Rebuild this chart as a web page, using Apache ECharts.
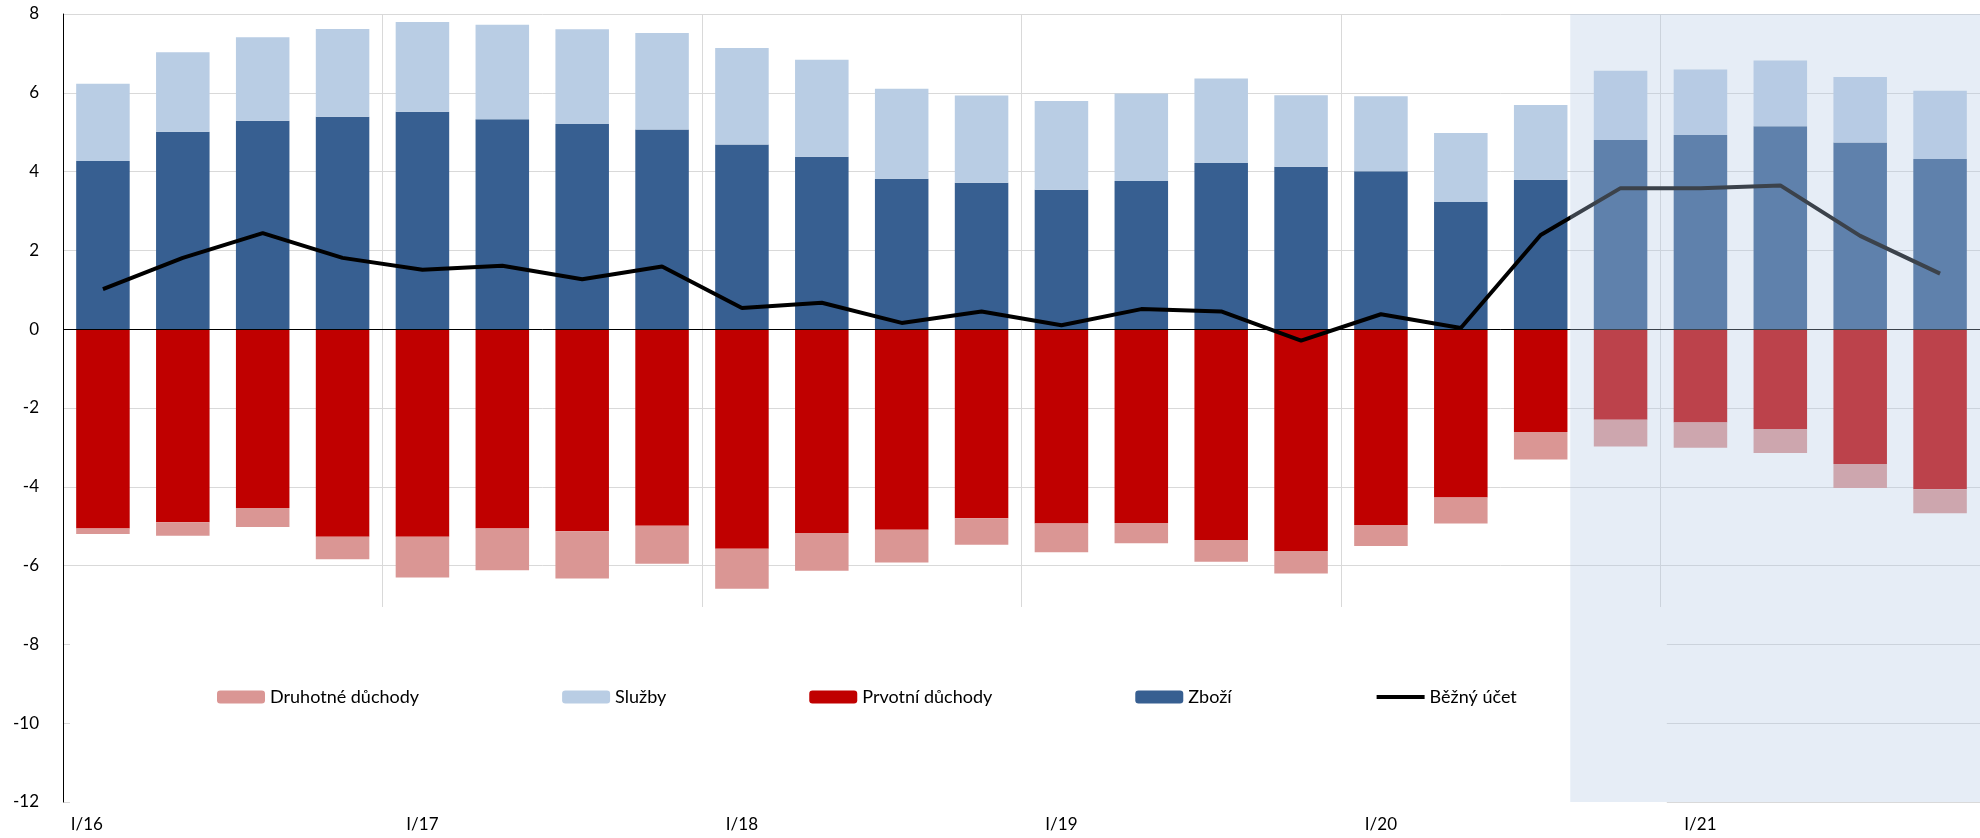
<!DOCTYPE html>
<html>
<head>
<meta charset="utf-8">
<script src="https://cdn.jsdelivr.net/npm/echarts@6/dist/echarts.min.js"></script>
<style>html,body{margin:0;padding:0;background:#fff}#c{width:1980px;height:838px}</style>
</head>
<body>
<div id="c"></div>
<script>
const categories = ['I/16','II/16','III/16','IV/16','I/17','II/17','III/17','IV/17','I/18','II/18','III/18','IV/18','I/19','II/19','III/19','IV/19','I/20','II/20','III/20','IV/20','I/21','II/21','III/21','IV/21'];
const zbozi = [4.27,5.01,5.29,5.39,5.52,5.33,5.21,5.07,4.69,4.38,3.82,3.72,3.54,3.76,4.22,4.12,4.01,3.23,3.79,4.80,4.93,5.15,4.74,4.32];
const sluzby = [1.96,2.02,2.12,2.23,2.28,2.40,2.40,2.45,2.45,2.46,2.28,2.21,2.25,2.22,2.14,1.82,1.90,1.75,1.90,1.76,1.66,1.67,1.66,1.73];
const prvotni = [-5.06,-4.90,-4.54,-5.27,-5.27,-5.06,-5.13,-4.99,-5.57,-5.17,-5.09,-4.80,-4.93,-4.92,-5.35,-5.63,-4.97,-4.27,-2.61,-2.30,-2.37,-2.53,-3.42,-4.06];
const druhotne = [-0.14,-0.34,-0.48,-0.57,-1.03,-1.06,-1.20,-0.96,-1.02,-0.96,-0.83,-0.67,-0.73,-0.51,-0.55,-0.57,-0.53,-0.66,-0.70,-0.68,-0.64,-0.61,-0.61,-0.61];
const bezny = [1.02,1.81,2.44,1.81,1.51,1.61,1.27,1.59,0.54,0.67,0.16,0.45,0.10,0.51,0.45,-0.29,0.38,0.03,2.39,3.58,3.58,3.65,2.37,1.41];
const yTicks = {min:-12, max:8, interval:2};
const forecastRange = [18.87, 24]; // shaded forecast span, in category units

const FONT = 'Lato';
const xData = categories.map((c, i) => i === 0 ? {value:c, textStyle:{align:'right'}} : c);

const chart = echarts.init(document.getElementById('c'));
chart.setOption({
  animation:false,
  backgroundColor:'#fff',
  textStyle:{fontFamily:FONT},
  grid:{left:63, top:14, width:1920, bottom:36, containLabel:false},
  legend:{
    data:['Druhotné důchody','Služby','Prvotní důchody','Zboží',
          {name:'Běžný účet', itemStyle:{opacity:0, color:'rgba(0,0,0,0)'}, lineStyle:{width:4, color:'#000'}}],
    left:70, top:607,
    padding:[81,150,98,147],
    backgroundColor:'#fff',
    z:1,
    itemWidth:48, itemHeight:13, itemGap:143,
    textStyle:{fontSize:18, color:'#000', fontFamily:FONT},
    selectedMode:false
  },
  xAxis:[{
    type:'category', data:xData, boundaryGap:true,
    axisLine:{show:false, onZero:false}, axisTick:{show:false},
    axisLabel:{interval:3, fontSize:17, color:'#000', margin:14, fontFamily:FONT},
    splitLine:{show:true, interval:3, lineStyle:{color:'#d9d9d9', width:1}}
  },{
    type:'value', min:0, max:24, show:false
  }],
  yAxis:{
    type:'value', min:yTicks.min, max:yTicks.max, interval:yTicks.interval,
    axisLine:{show:true, lineStyle:{color:'#000', width:1}},
    axisTick:{show:false},
    axisLabel:{fontSize:17, color:'#000', margin:24, fontFamily:FONT},
    splitLine:{show:true, lineStyle:{color:'#d9d9d9', width:1}}
  },
  series:[
    {name:'Zboží', type:'bar', stack:'a', data:zbozi, barWidth:'67%', itemStyle:{color:'#375f91'},
     markLine:{silent:true, symbol:'none', label:{show:false}, lineStyle:{color:'#000', width:1, type:'solid'}, data:[{yAxis:0}]}},
    {name:'Služby', type:'bar', stack:'a', data:sluzby, itemStyle:{color:'#b9cde4'}},
    {name:'Prvotní důchody', type:'bar', stack:'a', data:prvotni, itemStyle:{color:'#c00000'}},
    {name:'Druhotné důchody', type:'bar', stack:'a', data:druhotne, itemStyle:{color:'#da9694'}},
    {name:'Běžný účet', type:'line', data:bezny, symbol:'none', lineStyle:{color:'#000', width:4}, itemStyle:{color:'#000'}, z:3},
    {name:'forecast', type:'custom', xAxisIndex:1, yAxisIndex:0, z:20, silent:true,
     data:[forecastRange],
     renderItem:function(params, api){
       const cs = params.coordSys;
       const p0 = api.coord([api.value(0), yTicks.max]);
       const p1 = api.coord([api.value(1), yTicks.min]);
       return {type:'rect', shape:{x:p0[0], y:cs.y, width:p1[0]-p0[0], height:cs.height},
               style:{fill:'rgba(180,200,228,0.33)'}};
     }}
  ]
});
</script>
</body>
</html>
